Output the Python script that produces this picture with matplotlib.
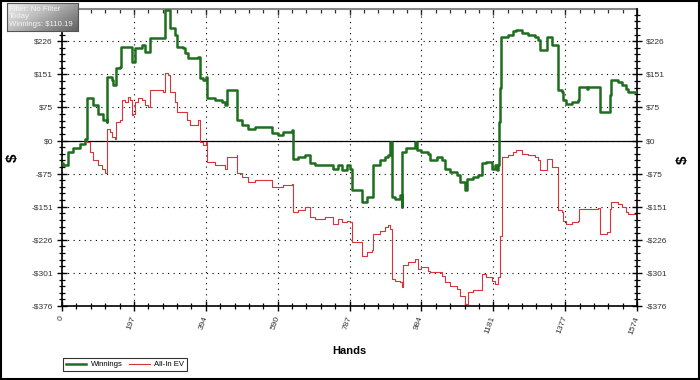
import numpy as np
import matplotlib
matplotlib.use("Agg")
from matplotlib import pyplot as plt
from matplotlib.ticker import AutoMinorLocator, FixedLocator, NullFormatter
from matplotlib.patches import Rectangle

plt.rcParams['font.family'] = ['Liberation Sans', 'DejaVu Sans']

# cumulative winnings by hand
win_hands = [0, 4, 17, 31, 49, 63, 67.5, 86, 99, 113, 122, 124, 136, 140, 148, 159, 161,
             186, 191, 200, 218, 227, 236, 241, 277, 282, 291, 296, 309, 314, 332, 337,
             346, 369, 373, 378, 387, 394, 396, 419, 437, 446, 451, 478, 480, 492, 510,
             528, 547, 574, 592, 606, 629, 633, 647, 665, 679, 693, 720, 743, 756, 766,
             779, 788, 793, 807, 820, 834, 848, 852, 870, 884, 893, 898, 902, 911, 925,
             930, 932, 943, 962, 966, 971, 984, 1003, 1007, 1026, 1039, 1048, 1062, 1080,
             1089, 1103, 1108, 1126, 1140, 1149, 1162, 1176, 1185, 1190, 1194, 1196, 1199,
             1203, 1222, 1235, 1244, 1258, 1276, 1295, 1304, 1308, 1322, 1327, 1336, 1340,
             1354, 1358, 1368, 1372, 1381, 1395, 1413, 1415, 1427, 1436, 1441, 1468, 1473,
             1491, 1500, 1504, 1523, 1532, 1545, 1550, 1568, 1574]
win_vals = [-50, -56, -26, -18, -7, 4.5, 96, 80, 61, 46, 42, 145, 137, 126, 164, 168, 213,
            213, 179, 210, 217, 202, 202, 232, 232, 297, 297, 255, 240, 213, 210, 198,
            187, 187, 191, 141, 137, 145, 96, 92, 88, 80, 115, 115, 46, 35, 27,
            31, 31, 16, 12, 20, 23, -41, -37, -34, -52, -56, -56, -64, -56, -68,
            -56, -64, -113, -113, -140, -129, -129, -56, -45, -37, -34, -3, -129, -132, -125,
            -151, -26, -18, -18, -3, -22, -26, -30, -45, -37, -45, -64, -72, -79,
            -94, -113, -87, -83, -79, -52, -49, -64, -56, -68, -56, 42, 120,
            236, 240, 248, 251, 244, 240, 236, 229, 206, 206, 236, 236, 217,
            217, 115, 111, 92, 84, 88, 92, 122, 122, 118, 122, 122, 65,
            65, 103, 137, 134, 126, 118, 111, 110, 110.19]

# all-in expected value by hand
ev_hands = [0, 4, 17, 31, 49, 63, 67.5, 77, 86, 99, 109, 118, 124, 131, 136, 145, 148, 159,
            163, 172, 181, 186, 191, 195, 200, 209, 218, 227, 236, 241, 277, 282, 291,
            296, 309, 314, 332, 341, 350, 369, 373, 378, 387, 394, 396, 419, 437, 446,
            451, 478, 480, 492, 510, 528, 547, 574, 592, 606, 629, 633, 647, 665, 679,
            693, 720, 743, 756, 766, 779, 788, 793, 807, 820, 834, 848, 852, 870, 884,
            893, 898, 902, 911, 925, 930, 934, 948, 962, 966, 975, 984, 1003, 1007, 1026,
            1039, 1048, 1062, 1080, 1089, 1103, 1112, 1126, 1140, 1149, 1162, 1176, 1185,
            1194, 1199, 1205, 1222, 1235, 1244, 1258, 1276, 1295, 1304, 1308, 1322, 1327,
            1336, 1340, 1354, 1358, 1368, 1372, 1381, 1395, 1413, 1415, 1468, 1473, 1491,
            1500, 1504, 1523, 1532, 1545, 1550, 1568, 1574]
ev_vals = [-50, -56, -26, -18, -7, 4.5, -3, -26, -45, -56, -64, -75, 27, 20, 8, 4, 42, 46,
           92, 88, 99, 92, 58, 61, 88, 96, 92, 80, 77, 115, 111, 153, 149,
           111, 88, 65, 65, 46, 35, 35, 46, -3, -11, -3, -49, -56, -56, -64,
           -37, -34, -75, -83, -94, -90, -90, -106, -106, -102, -98, -163, -159, -151, -174,
           -178, -174, -189, -178, -185, -182, -185, -231, -231, -262, -254, -250, -212, -205, -197,
           -193, -201, -315, -319, -322, -334, -284, -277, -277, -269, -292, -288, -296, -300, -300,
           -307, -322, -330, -338, -353, -372, -345, -341, -341, -303, -311, -319, -326,
           -311, -216, -37, -34, -26, -22, -30, -34, -37, -45, -68, -68, -41,
           -41, -60, -60, -159, -163, -182, -189, -185, -182, -155, -154, -212, -208,
           -155, -140, -144, -151, -163, -166, -166, -166]

x_ticks = [0, 196.75, 393.5, 590.25, 787, 983.75, 1180.5, 1377.25, 1574]
x_labels = ['0', '197', '394', '590', '787', '984', '1181', '1377', '1574']
y_ticks = [-376.25, -301, -225.75, -150.5, -75.25, 0, 75.25, 150.5, 225.75]
y_labels = ['-$376', '-$301', '-$226', '-$151', '-$75', '$0', '$75', '$151', '$226']

fig = plt.figure(figsize=(7, 3.8), dpi=100)
ax = fig.add_axes([62 / 700, 1 - 306 / 380, 575 / 700, 297 / 380])

ax.plot(win_hands, win_vals, color='#1f6e1f', linewidth=1.8, label='Winnings',
        drawstyle='steps-post', zorder=3)
ax.plot(ev_hands, ev_vals, color='#d8343a', linewidth=0.8, label='All-In EV',
        drawstyle='steps-post', zorder=2)
ax.axhline(0, color='black', linewidth=0.9, zorder=1)

ax.set_xlim(0, 1574)
ax.set_ylim(-376.25, 299)

ax.xaxis.set_major_locator(FixedLocator(x_ticks))
ax.yaxis.set_major_locator(FixedLocator(y_ticks))
ax.set_xticklabels(x_labels, rotation=70, rotation_mode='anchor', ha='right', va='center',
                   fontsize=6, color='#333333')
ax.set_yticklabels(y_labels, fontsize=6, color='#333333')
ax.xaxis.set_minor_locator(AutoMinorLocator(5))
ax.yaxis.set_minor_locator(AutoMinorLocator(5))

ax.tick_params(axis='both', which='major', direction='inout', length=7, width=1.0, color='black')
ax.tick_params(axis='both', which='minor', direction='inout', length=5, width=0.9, color='black')
ax.tick_params(axis='y', which='both', left=True, right=True, labelleft=True, labelright=True,
               pad=3)
ax.tick_params(axis='x', which='major', pad=4)

# top ticks point inward only
top = ax.secondary_xaxis('top')
top.xaxis.set_major_locator(FixedLocator(x_ticks))
top.xaxis.set_minor_locator(AutoMinorLocator(5))
top.xaxis.set_major_formatter(NullFormatter())
top.tick_params(which='major', direction='in', length=4, width=1.0, color='#333333')
top.tick_params(which='minor', direction='in', length=3, width=0.9, color='#333333')
top.spines['top'].set_color('#888888')
top.spines['top'].set_linewidth(1.5)
ax.spines['top'].set_visible(False)

for side in ('left', 'right', 'bottom'):
    ax.spines[side].set_linewidth(1.2)
    ax.spines[side].set_color('black')

ax.grid(True, which='major', color='black', linestyle=(0, (1, 4)), linewidth=0.8)

ax.set_xlabel('Hands', fontsize=8, fontweight='bold', labelpad=8)
ax.set_ylabel('$', fontsize=11, fontweight='bold', labelpad=8)
fig.text(683 / 700, 1 - 160 / 380, '$', fontsize=11, fontweight='bold', rotation=90,
         ha='center', va='center')

fig.legend(loc='lower left', bbox_to_anchor=(63 / 700, 9 / 380), ncol=2, fontsize=5.6,
           frameon=True, fancybox=False, edgecolor='black', borderpad=0.35,
           handlelength=2.6, handletextpad=0.6, columnspacing=0.9, borderaxespad=0)
leg = fig.legends[0]
leg.get_frame().set_linewidth(0.8)

# info box with grey gradient
box = fig.add_axes([7 / 700, 1 - 31 / 380, 71 / 700, 28 / 380])
grad = np.linspace(0, 1, 64)
grad = np.outer(np.ones(8), grad) + np.outer(np.linspace(0, 0.6, 8), np.ones(64))
box.imshow(grad, cmap='Greys', vmin=-0.5, vmax=2.6, aspect='auto', extent=(0, 1, 0, 1))
box.set_xticks([])
box.set_yticks([])
for s in box.spines.values():
    s.set_color('#555555')
    s.set_linewidth(0.8)
box.text(0.03, 0.5, 'Filter: No Filter\nToday\nWinnings: $110.19', transform=box.transAxes,
         fontsize=5.6, color='#f4f4f4', va='center', ha='left', linespacing=1.1)

fig.add_artist(Rectangle((0.001, 0.002), 0.997, 0.996, transform=fig.transFigure,
                         fill=False, edgecolor='black', linewidth=1.5))

fig.savefig('out.png', dpi=100)
